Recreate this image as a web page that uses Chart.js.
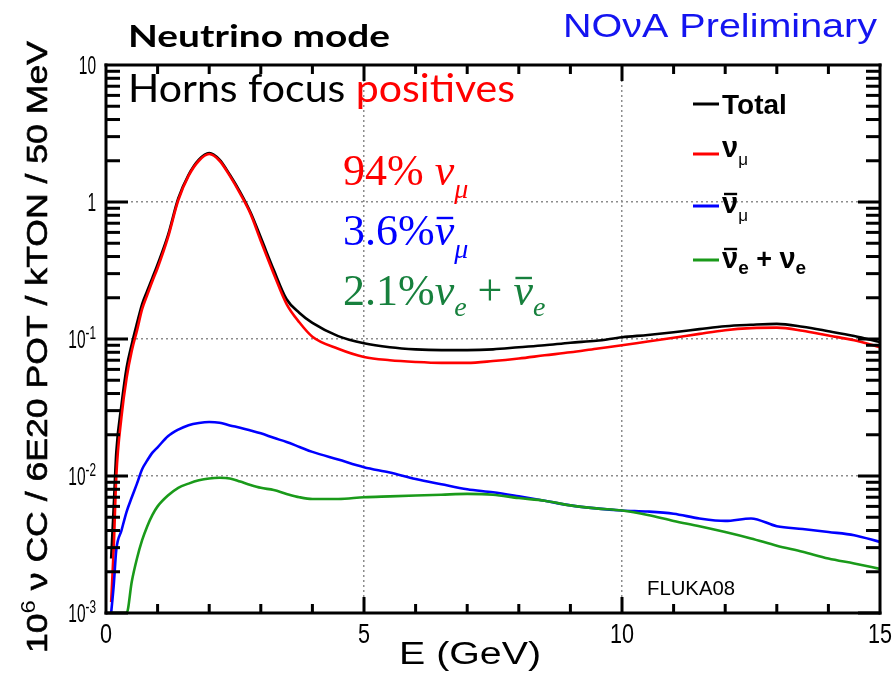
<!DOCTYPE html>
<html>
<head>
<meta charset="utf-8">
<script src="https://cdn.jsdelivr.net/npm/chart.js@4.4.1/dist/chart.umd.min.js"></script>
<style>
  html, body { margin: 0; padding: 0; background: #fff; }
  #wrap { width: 896px; height: 674px; }
</style>
</head>
<body>
<div id="wrap"><canvas id="fluxChart" width="896" height="674"></canvas></div>
<script>
// energy points (GeV)
const energy = [0.1,0.15,0.2,0.3,0.4,0.5,0.6,0.7,0.8,0.9,1.0,1.2,1.4,1.6,1.8,2.0,2.2,2.4,2.6,2.8,3.0,3.25,3.5,3.75,4.0,4.5,5,5.5,6,6.5,7,7.5,8,8.5,9,9.5,10,10.5,11,11.5,12,12.5,13,13.5,14,14.5,15];

// events per 50 MeV bin
const total = [0.0025,0.006,0.015,0.033,0.062,0.092,0.13,0.18,0.225,0.28,0.35,0.57,1.06,1.58,2.04,2.28,2.04,1.58,1.18,0.84,0.55,0.32,0.195,0.155,0.131,0.105,0.093,0.087,0.084,0.083,0.083,0.084,0.087,0.090,0.094,0.097,0.103,0.107,0.112,0.118,0.124,0.127,0.129,0.123,0.114,0.105,0.095];
const numu = [0.0012,0.003,0.010,0.027,0.052,0.082,0.115,0.165,0.21,0.265,0.33,0.55,1.03,1.55,2.0,2.24,2.0,1.55,1.15,0.82,0.52,0.30,0.18,0.132,0.104,0.085,0.074,0.070,0.068,0.067,0.067,0.069,0.072,0.076,0.080,0.085,0.090,0.096,0.102,0.109,0.116,0.120,0.121,0.115,0.106,0.098,0.087];
const numubar = [0.001,0.0016,0.0029,0.004,0.0055,0.007,0.0088,0.0112,0.013,0.0148,0.0162,0.0195,0.0218,0.0235,0.0244,0.0248,0.0245,0.0234,0.0225,0.0215,0.0205,0.019,0.0177,0.0163,0.015,0.0132,0.0116,0.0106,0.0095,0.0087,0.008,0.0076,0.0071,0.0066,0.0061,0.0058,0.0056,0.0055,0.0053,0.0049,0.0047,0.0049,0.0043,0.0041,0.0039,0.0037,0.0033];
const nue = [0.001,0.001,0.001,0.001,0.001,0.0017,0.0025,0.0034,0.0043,0.0052,0.006,0.0072,0.0082,0.0088,0.0093,0.0096,0.0097,0.0096,0.0091,0.0086,0.0082,0.0079,0.0074,0.007,0.0068,0.0068,0.007,0.0071,0.0072,0.0073,0.0074,0.0073,0.0069,0.0066,0.0061,0.0058,0.0056,0.0052,0.0047,0.0043,0.0039,0.0035,0.0031,0.0028,0.0025,0.0023,0.0021];

// axis ticks
const xTickLabels = [0, 5, 10, 15];
const yTickLabels = [0.001, 0.01, 0.1, 1, 10];

const SANS = '"Liberation Sans", Arial, sans-serif';
const SERIF = '"Liberation Serif", "Times New Roman", serif';
const GEO = 'Lato, "Open Sans", sans-serif';

const pts = arr => energy.map((e, i) => ({ x: e, y: arr[i] }));

// draw a row of text pieces; each piece can be raised/lowered or get a bar on top
function richText(ctx, segs, x, y, opt) {
  opt = opt || {};
  ctx.save();
  let w = 0;
  segs.forEach(s => { ctx.font = s.font; s.w = ctx.measureText(s.t).width; w += s.w; });
  const sx = opt.width ? opt.width / w : (opt.sx || 1);
  const full = w * sx;
  const x0 = opt.align === 'right' ? x - full : opt.align === 'center' ? x - full / 2 : x;
  ctx.translate(x0, y);
  ctx.scale(sx, 1);
  ctx.textBaseline = 'alphabetic';
  ctx.textAlign = 'left';
  let cx = 0;
  segs.forEach(s => {
    ctx.font = s.font;
    ctx.fillStyle = s.color || '#000';
    ctx.fillText(s.t, cx, s.dy || 0);
    if (s.stroke) {
      ctx.strokeStyle = s.color || '#000';
      ctx.lineWidth = s.stroke;
      ctx.strokeText(s.t, cx, s.dy || 0);
    }
    if (s.bar !== undefined) {
      ctx.fillRect(cx + 2, s.bar - 1.2, s.w - 3, 2.4);
    }
    cx += s.w;
  });
  ctx.restore();
}

const rootFrame = {
  id: 'rootFrame',
  afterDraw(chart) {
    const { ctx, chartArea: a, scales: { x, y } } = chart;
    ctx.save();
    ctx.fillStyle = '#000';

    // inner ticks on all four sides (as thin boxes)
    for (let v = 1; v < 15; v++) {
      const px = x.getPixelForValue(v);
      const len = v % 5 === 0 ? 16 : 9;
      ctx.fillRect(px - 1.5, a.bottom - len, 3, len);
      ctx.fillRect(px - 1.5, a.top, 3, len);
    }
    for (let d = -3; d <= 0; d++) {
      for (let k = 1; k <= 9; k++) {
        const py = y.getPixelForValue(k * Math.pow(10, d));
        const len = k === 1 ? 22 : 14;
        ctx.fillRect(a.left, py - 1.5, len, 3);
        ctx.fillRect(a.right - len, py - 1.5, len, 3);
      }
    }
    // frame
    ctx.fillRect(a.left - 1.5, a.top - 1.5, a.right - a.left + 3, 3);
    ctx.fillRect(a.left - 1.5, a.bottom - 1.5, a.right - a.left + 3, 3);
    ctx.fillRect(a.left - 1.5, a.top - 1.5, 3, a.bottom - a.top + 3);
    ctx.fillRect(a.right - 1.5, a.top - 1.5, 3, a.bottom - a.top + 3);

    // tick labels
    xTickLabels.forEach(v => {
      richText(ctx, [{ t: String(v), font: '27px ' + SANS }], x.getPixelForValue(v), a.bottom + 30, { align: 'center', sx: 0.8 });
    });
    yTickLabels.forEach(v => {
      const py = y.getPixelForValue(v);
      const p = Math.round(Math.log10(v));
      let segs;
      if (p === 1) segs = [{ t: '10', font: '25px ' + SANS }];
      else if (p === 0) segs = [{ t: '1', font: '25px ' + SANS }];
      else segs = [{ t: '10', font: '25px ' + SANS }, { t: '-' + (-p), font: '19px ' + SANS, dy: -9 }];
      richText(ctx, segs, a.left - 10, py + 9, { align: 'right', sx: 0.62 });
    });

    // axis titles
    richText(ctx, [{ t: 'E (GeV)', font: '31px ' + SANS }], 470, 664, { align: 'center', width: 142 });
    ctx.save();
    ctx.translate(47, 347);
    ctx.rotate(-Math.PI / 2);
    richText(ctx, [
      { t: '10', font: '30px ' + SANS, stroke: 0.6 },
      { t: '6', font: '20px ' + SANS, dy: -12 },
      { t: ' \u03bd CC / 6E20 POT / kTON / 50 MeV', font: '30px ' + SANS, stroke: 0.6 }
    ], 0, 0, { align: 'center', width: 612 });
    ctx.restore();

    // headers
    richText(ctx, [{ t: 'Neutrino mode', font: 'bold 30px ' + GEO }], 128, 47, { width: 262 });
    richText(ctx, [
      { t: 'Horns focus ', font: '38px ' + GEO },
      { t: 'positives', font: '38px ' + GEO, color: '#ff0000' }
    ], 128, 102, { width: 387 });
    richText(ctx, [{ t: 'NO\u03bdA Preliminary', font: '33px ' + SANS, color: '#1414f0' }], 877, 37, { align: 'right', width: 314 });

    // fractions
    const red = '#ff0000', blue = '#0000ff', dgreen = '#17803d';
    richText(ctx, [
      { t: '94% ', font: '44px ' + SERIF, color: red },
      { t: '\u03bd', font: 'italic 44px ' + SERIF, color: red },
      { t: '\u03bc', font: 'italic 28px ' + SERIF, color: red, dy: 13 }
    ], 343, 185);
    richText(ctx, [
      { t: '3.6%', font: '44px ' + SERIF, color: blue },
      { t: '\u03bd', font: 'italic 44px ' + SERIF, color: blue, bar: -27 },
      { t: '\u03bc', font: 'italic 28px ' + SERIF, color: blue, dy: 13 }
    ], 343, 245);
    richText(ctx, [
      { t: '2.1%', font: '44px ' + SERIF, color: dgreen },
      { t: '\u03bd', font: 'italic 44px ' + SERIF, color: dgreen },
      { t: 'e', font: 'italic 28px ' + SERIF, color: dgreen, dy: 11 },
      { t: ' + ', font: '44px ' + SERIF, color: dgreen },
      { t: '\u03bd', font: 'italic 44px ' + SERIF, color: dgreen, bar: -27 },
      { t: 'e', font: 'italic 28px ' + SERIF, color: dgreen, dy: 11 }
    ], 343, 305);

    // legend
    const ds = chart.data.datasets;
    const rows = [
      { i: 0, ly: 104, base: 114, segs: [{ t: 'Total', font: 'bold 28px ' + SANS }] },
      { i: 1, ly: 154, base: 157, segs: [{ t: '\u03bd', font: 'bold 29px ' + SANS }, { t: '\u03bc', font: '17px ' + SANS, dy: 8 }] },
      { i: 2, ly: 206, base: 213, segs: [{ t: '\u03bd', font: 'bold 29px ' + SANS, bar: -19 }, { t: '\u03bc', font: '17px ' + SANS, dy: 8 }] },
      { i: 3, ly: 260, base: 268, segs: [
        { t: '\u03bd', font: 'bold 29px ' + SANS, bar: -19 }, { t: 'e', font: 'bold 19px ' + SANS, dy: 6 },
        { t: ' + ', font: 'bold 27px ' + SANS }, { t: '\u03bd', font: 'bold 29px ' + SANS }, { t: 'e', font: 'bold 19px ' + SANS, dy: 6 }
      ] }
    ];
    rows.forEach(r => {
      ctx.fillStyle = ds[r.i].borderColor;
      ctx.fillRect(693, r.ly - 1.5, 26, 3);
      richText(ctx, r.segs, 722, r.base);
    });

    richText(ctx, [{ t: 'FLUKA08', font: '21px ' + SANS }], 647, 595, { width: 88 });
    ctx.restore();
  }
};

const line = (label, arr, color, order) => ({
  label, data: pts(arr), borderColor: color, backgroundColor: color,
  borderWidth: 2.6, pointRadius: 0, cubicInterpolationMode: 'monotone', fill: false, order
});

new Chart(document.getElementById('fluxChart').getContext('2d'), {
  type: 'line',
  data: {
    datasets: [
      line('Total', total, '#000000', 4),
      line('\u03bd\u03bc', numu, '#ff0000', 3),
      line('anti-\u03bd\u03bc', numubar, '#0000ff', 2),
      line('\u03bde', nue, '#1a9a1a', 1)
    ]
  },
  options: {
    responsive: false,
    animation: false,
    layout: { padding: { left: 106, right: 16, top: 65, bottom: 61 } },
    plugins: { legend: { display: false }, tooltip: { enabled: false } },
    scales: {
      x: {
        type: 'linear', min: 0, max: 15,
        ticks: { display: false, stepSize: 5 },
        grid: { drawTicks: false, lineWidth: 1.5, color: c => (c.tick && (c.tick.value === 5 || c.tick.value === 10)) ? '#8c8c8c' : 'rgba(0,0,0,0)' },
        border: { display: false, dash: [2, 3] }
      },
      y: {
        type: 'logarithmic', min: 0.001, max: 10,
        afterBuildTicks: s => { s.ticks = yTickLabels.map(v => ({ value: v })); },
        ticks: { display: false },
        grid: { drawTicks: false, lineWidth: 1.5, color: c => (c.tick && c.tick.value > 0.005 && c.tick.value < 5) ? '#8c8c8c' : 'rgba(0,0,0,0)' },
        border: { display: false, dash: [2, 3] }
      }
    }
  },
  plugins: [rootFrame]
});
</script>
</body>
</html>
